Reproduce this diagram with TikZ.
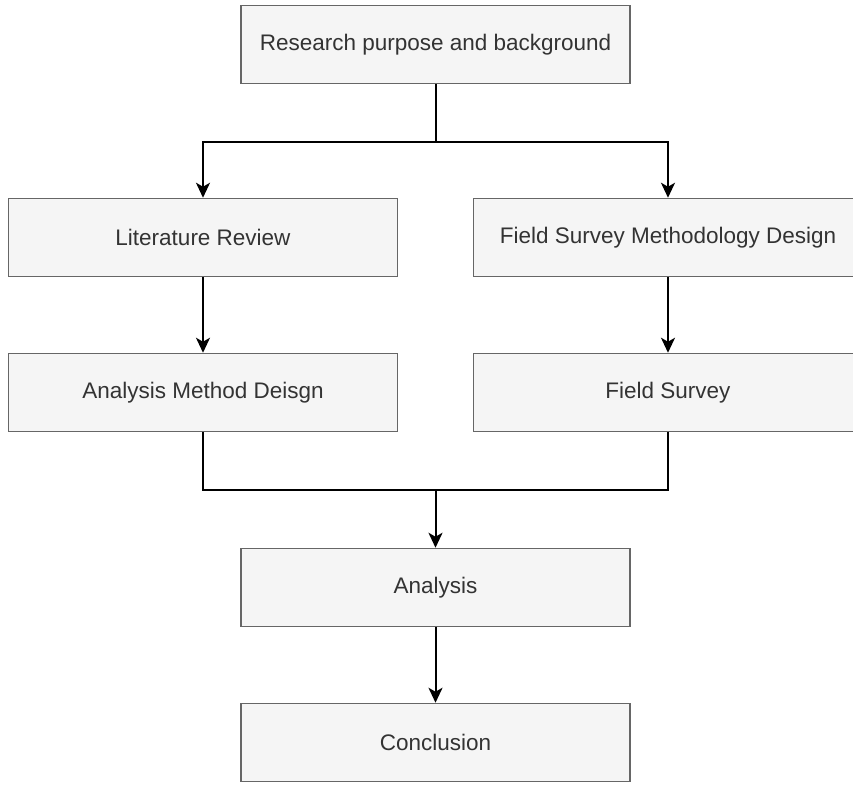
\documentclass[tikz,border=0pt]{standalone}
\usepackage{fontspec}
\setmainfont{Liberation Sans}
\usetikzlibrary{arrows.meta}
\definecolor{boxfill}{HTML}{F5F5F5}
\definecolor{boxline}{HTML}{666666}
\definecolor{txt}{HTML}{333333}
\begin{document}
\begin{tikzpicture}[x=1pt,y=-1pt,
  box/.style={draw=boxline,fill=boxfill,line width=1.5pt,minimum width=389pt,minimum height=78pt,inner sep=0pt,text=txt,font=\fontsize{22.5}{27}\selectfont},
  wire/.style={line width=2pt,draw=black},
  conn/.style={wire,-{Stealth[length=15pt,width=14pt,inset=4pt]}}]
\useasboundingbox (0,0) rectangle (853,784);
\clip (0,0) rectangle (853,784);
\node[box] (top) at (435.5,44.5) {Research purpose and background};
\node[box] (lit) at (203,237.5) {Literature Review};
\node[box] (fsmd) at (668,237.5) {Field Survey Methodology Design};
\node[box] (amd) at (203,392.5) {Analysis Method Deisgn};
\node[box] (fs) at (668,392.5) {Field Survey};
\node[box] (an) at (435.5,587.5) {Analysis};
\node[box] (con) at (435.5,742.5) {Conclusion};
\coordinate (split) at (435.5,142);
\coordinate (merge) at (435.5,490);
\draw[wire] (top.south) -- (split);
\draw[conn] (split) -| (lit.north);
\draw[conn] (split) -| (fsmd.north);
\draw[conn] (lit) -- (amd);
\draw[conn] (fsmd) -- (fs);
\draw[wire] (amd.south) |- (merge) -| (fs.south);
\draw[conn] (merge) -- (an);
\draw[conn] (an) -- (con);
\end{tikzpicture}
\end{document}
